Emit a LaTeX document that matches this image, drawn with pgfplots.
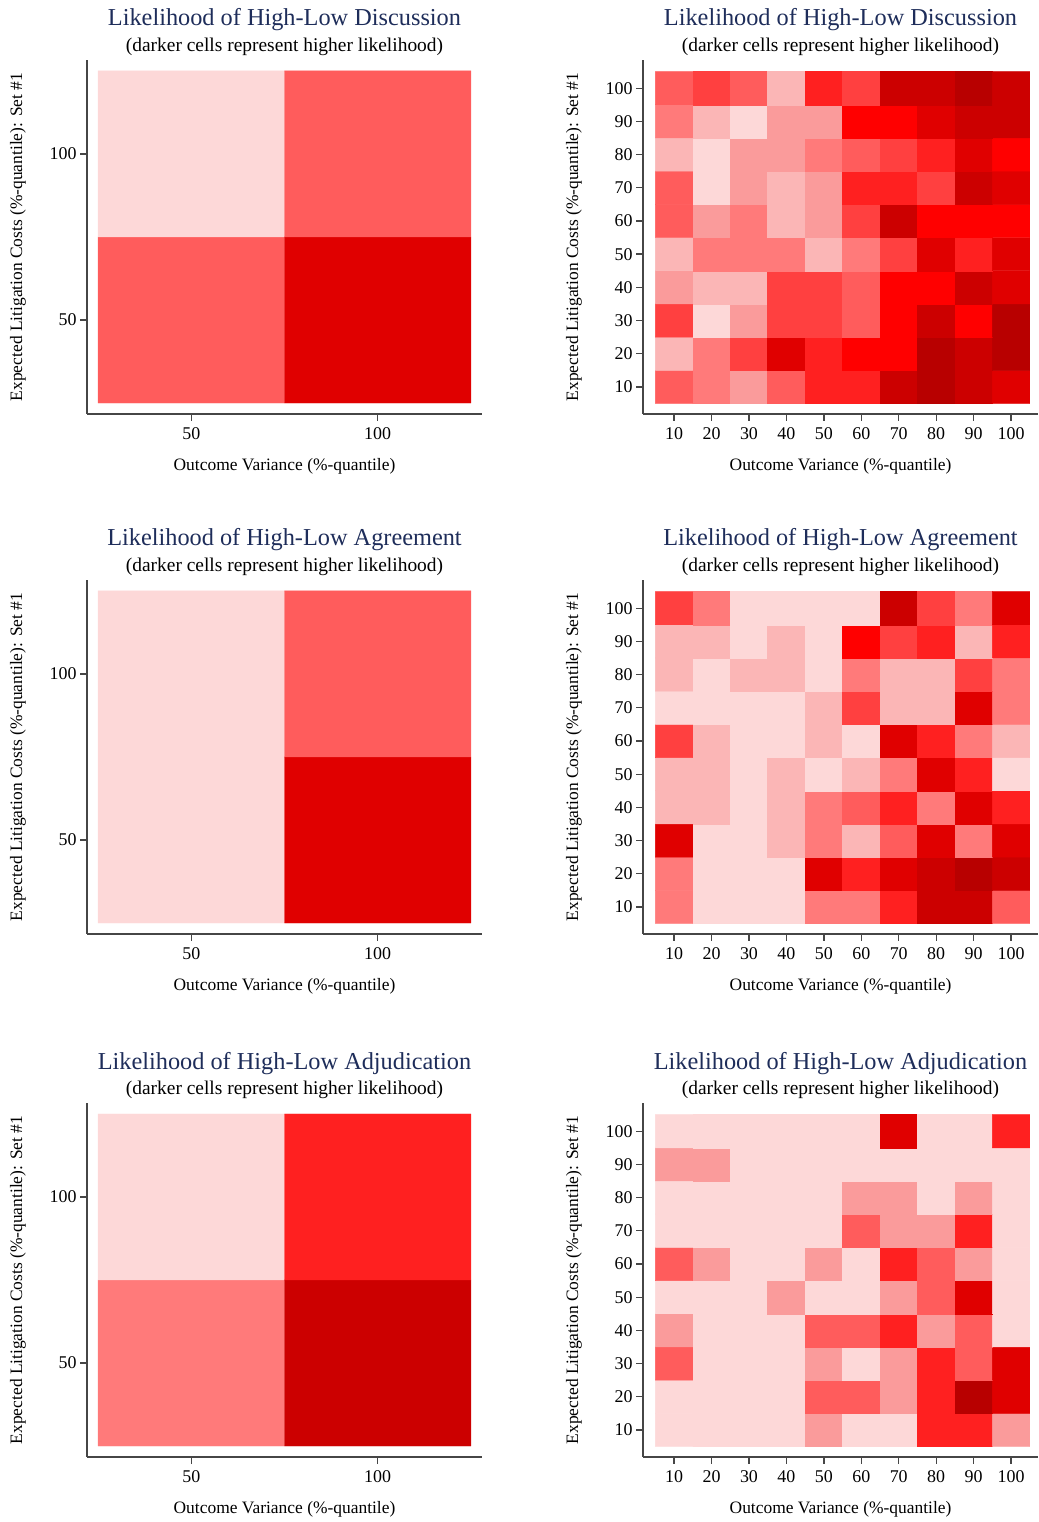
\documentclass[border=0pt]{standalone}
\usepackage{fontspec}
\setmainfont{Liberation Serif}
\usepackage{pgfplots}
\pgfplotsset{compat=1.18}
\definecolor{titlecol}{RGB}{30,45,90}
\definecolor{axcol}{RGB}{70,70,70}
\newcommand\tickfont{\fontsize{18}{20}\selectfont}
\newcommand\labfont{\fontsize{17.5}{20}\selectfont}
\newcommand\titfont{\fontsize{24.4}{26}\selectfont}
\newcommand\subfont{\fontsize{19.5}{22}\selectfont}
\pgfplotsset{
  colormap={heat}{rgb255=(253,216,216) rgb255=(251,182,182) rgb255=(250,155,155)
    rgb255=(255,122,122) rgb255=(255,92,92) rgb255=(255,64,64) rgb255=(255,32,32)
    rgb255=(255,0,0) rgb255=(224,0,0) rgb255=(204,0,0) rgb255=(184,0,0)},
  base/.style={
    scale only axis, width=395bp, height=354bp, anchor=south west,
    axis lines=left, axis line style={-, axcol, line width=1.3bp},
    tick align=outside, major tick length=7bp, tick style={axcol, line width=1.3bp},
    clip=false, colormap name=heat, point meta min=0, point meta max=10,
    ticklabel style={font=\tickfont, text=black},
    xticklabel style={yshift=-3bp},
    /pgf/number format/assume math mode=true,
    xlabel={Outcome Variance (\%-quantile)},
    ylabel={Expected Litigation Costs (\%-quantile): Set \#1},
    label style={font=\labfont},
    xlabel style={at={(axis description cs:0.5,-0.149)}, anchor=center},
    ylabel style={at={(axis description cs:-0.175,0.5)}, anchor=center},
  },
  heatL/.style={base, xmin=22, xmax=128, ymin=21.7, ymax=128.3, xtick={50,100}, ytick={50,100}},
  heatR/.style={base, xmin=1.7, xmax=107.2, ymin=1.85, ymax=108.5,
    xtick={10,20,30,40,50,60,70,80,90,100}, ytick={10,20,30,40,50,60,70,80,90,100}},
}
\newcommand\heattitle[1]{%
  \node[anchor=base, font=\titfont, text=titlecol] at (axis description cs:0.5,1.096) {Likelihood of High-Low #1};
  \node[anchor=base, font=\subfont, text=black] at (axis description cs:0.5,1.025) {(darker cells represent higher likelihood)};}
\begin{document}
\begin{tikzpicture}[x=1bp,y=1bp]
\path[use as bounding box] (0,0) rectangle (1038,1522);
% ---------- Row 1: Discussion
\begin{axis}[heatL, at={(87bp,1108bp)}]
\addplot[matrix plot*, mesh/cols=2, point meta=explicit] coordinates {
(50,50)[4] (100,50)[8]
(50,100)[0] (100,100)[4]};
\heattitle{Discussion}
\end{axis}
\begin{axis}[heatR, at={(643bp,1108bp)}]
\addplot[matrix plot*, mesh/cols=10, point meta=explicit] coordinates {
(10,10)[4] (20,10)[3] (30,10)[2] (40,10)[4] (50,10)[6] (60,10)[6] (70,10)[9] (80,10)[10] (90,10)[9] (100,10)[8]
(10,20)[1] (20,20)[3] (30,20)[5] (40,20)[8] (50,20)[6] (60,20)[7] (70,20)[7] (80,20)[10] (90,20)[9] (100,20)[10]
(10,30)[5] (20,30)[0] (30,30)[2] (40,30)[5] (50,30)[5] (60,30)[4] (70,30)[7] (80,30)[9] (90,30)[7] (100,30)[10]
(10,40)[2] (20,40)[1] (30,40)[1] (40,40)[5] (50,40)[5] (60,40)[4] (70,40)[7] (80,40)[7] (90,40)[9] (100,40)[8]
(10,50)[1] (20,50)[3] (30,50)[3] (40,50)[3] (50,50)[1] (60,50)[3] (70,50)[5] (80,50)[8] (90,50)[6] (100,50)[8]
(10,60)[4] (20,60)[2] (30,60)[3] (40,60)[1] (50,60)[2] (60,60)[5] (70,60)[9] (80,60)[7] (90,60)[7] (100,60)[7]
(10,70)[4] (20,70)[0] (30,70)[2] (40,70)[1] (50,70)[2] (60,70)[6] (70,70)[6] (80,70)[5] (90,70)[9] (100,70)[8]
(10,80)[1] (20,80)[0] (30,80)[2] (40,80)[2] (50,80)[3] (60,80)[4] (70,80)[5] (80,80)[6] (90,80)[8] (100,80)[7]
(10,90)[3] (20,90)[1] (30,90)[0] (40,90)[2] (50,90)[2] (60,90)[7] (70,90)[7] (80,90)[8] (90,90)[9] (100,90)[9]
(10,100)[4] (20,100)[5] (30,100)[4] (40,100)[1] (50,100)[6] (60,100)[5] (70,100)[9] (80,100)[9] (90,100)[10] (100,100)[9]};
\heattitle{Discussion}
\end{axis}
% ---------- Row 2: Agreement
\begin{axis}[heatL, at={(87bp,588bp)}]
\addplot[matrix plot*, mesh/cols=2, point meta=explicit] coordinates {
(50,50)[0] (100,50)[8]
(50,100)[0] (100,100)[4]};
\heattitle{Agreement}
\end{axis}
\begin{axis}[heatR, at={(643bp,588bp)}]
\addplot[matrix plot*, mesh/cols=10, point meta=explicit] coordinates {
(10,10)[3] (20,10)[0] (30,10)[0] (40,10)[0] (50,10)[3] (60,10)[3] (70,10)[6] (80,10)[9] (90,10)[9] (100,10)[4]
(10,20)[3] (20,20)[0] (30,20)[0] (40,20)[0] (50,20)[8] (60,20)[6] (70,20)[8] (80,20)[9] (90,20)[10] (100,20)[9]
(10,30)[8] (20,30)[0] (30,30)[0] (40,30)[1] (50,30)[3] (60,30)[1] (70,30)[4] (80,30)[8] (90,30)[3] (100,30)[8]
(10,40)[1] (20,40)[1] (30,40)[0] (40,40)[1] (50,40)[3] (60,40)[4] (70,40)[6] (80,40)[3] (90,40)[8] (100,40)[6]
(10,50)[1] (20,50)[1] (30,50)[0] (40,50)[1] (50,50)[0] (60,50)[1] (70,50)[3] (80,50)[8] (90,50)[6] (100,50)[0]
(10,60)[5] (20,60)[1] (30,60)[0] (40,60)[0] (50,60)[1] (60,60)[0] (70,60)[8] (80,60)[6] (90,60)[3] (100,60)[1]
(10,70)[0] (20,70)[0] (30,70)[0] (40,70)[0] (50,70)[1] (60,70)[5] (70,70)[1] (80,70)[1] (90,70)[8] (100,70)[3]
(10,80)[1] (20,80)[0] (30,80)[1] (40,80)[1] (50,80)[0] (60,80)[3] (70,80)[1] (80,80)[1] (90,80)[5] (100,80)[3]
(10,90)[1] (20,90)[1] (30,90)[0] (40,90)[1] (50,90)[0] (60,90)[7] (70,90)[5] (80,90)[6] (90,90)[1] (100,90)[6]
(10,100)[5] (20,100)[3] (30,100)[0] (40,100)[0] (50,100)[0] (60,100)[0] (70,100)[9] (80,100)[5] (90,100)[3] (100,100)[8]};
\heattitle{Agreement}
\end{axis}
% ---------- Row 3: Adjudication
\begin{axis}[heatL, at={(87bp,65bp)}]
\addplot[matrix plot*, mesh/cols=2, point meta=explicit] coordinates {
(50,50)[3] (100,50)[9]
(50,100)[0] (100,100)[6]};
\heattitle{Adjudication}
\end{axis}
\begin{axis}[heatR, at={(643bp,65bp)}]
\addplot[matrix plot*, mesh/cols=10, point meta=explicit] coordinates {
(10,10)[0] (20,10)[0] (30,10)[0] (40,10)[0] (50,10)[2] (60,10)[0] (70,10)[0] (80,10)[6] (90,10)[6] (100,10)[2]
(10,20)[0] (20,20)[0] (30,20)[0] (40,20)[0] (50,20)[4] (60,20)[4] (70,20)[2] (80,20)[6] (90,20)[10] (100,20)[8]
(10,30)[4] (20,30)[0] (30,30)[0] (40,30)[0] (50,30)[2] (60,30)[0] (70,30)[2] (80,30)[6] (90,30)[4] (100,30)[8]
(10,40)[2] (20,40)[0] (30,40)[0] (40,40)[0] (50,40)[4] (60,40)[4] (70,40)[6] (80,40)[2] (90,40)[4] (100,40)[0]
(10,50)[0] (20,50)[0] (30,50)[0] (40,50)[2] (50,50)[0] (60,50)[0] (70,50)[2] (80,50)[4] (90,50)[8] (100,50)[0]
(10,60)[4] (20,60)[2] (30,60)[0] (40,60)[0] (50,60)[2] (60,60)[0] (70,60)[6] (80,60)[4] (90,60)[2] (100,60)[0]
(10,70)[0] (20,70)[0] (30,70)[0] (40,70)[0] (50,70)[0] (60,70)[4] (70,70)[2] (80,70)[2] (90,70)[6] (100,70)[0]
(10,80)[0] (20,80)[0] (30,80)[0] (40,80)[0] (50,80)[0] (60,80)[2] (70,80)[2] (80,80)[0] (90,80)[2] (100,80)[0]
(10,90)[2] (20,90)[2] (30,90)[0] (40,90)[0] (50,90)[0] (60,90)[0] (70,90)[0] (80,90)[0] (90,90)[0] (100,90)[0]
(10,100)[0] (20,100)[0] (30,100)[0] (40,100)[0] (50,100)[0] (60,100)[0] (70,100)[8] (80,100)[0] (90,100)[0] (100,100)[6]};
\heattitle{Adjudication}
\end{axis}
\end{tikzpicture}
\end{document}
